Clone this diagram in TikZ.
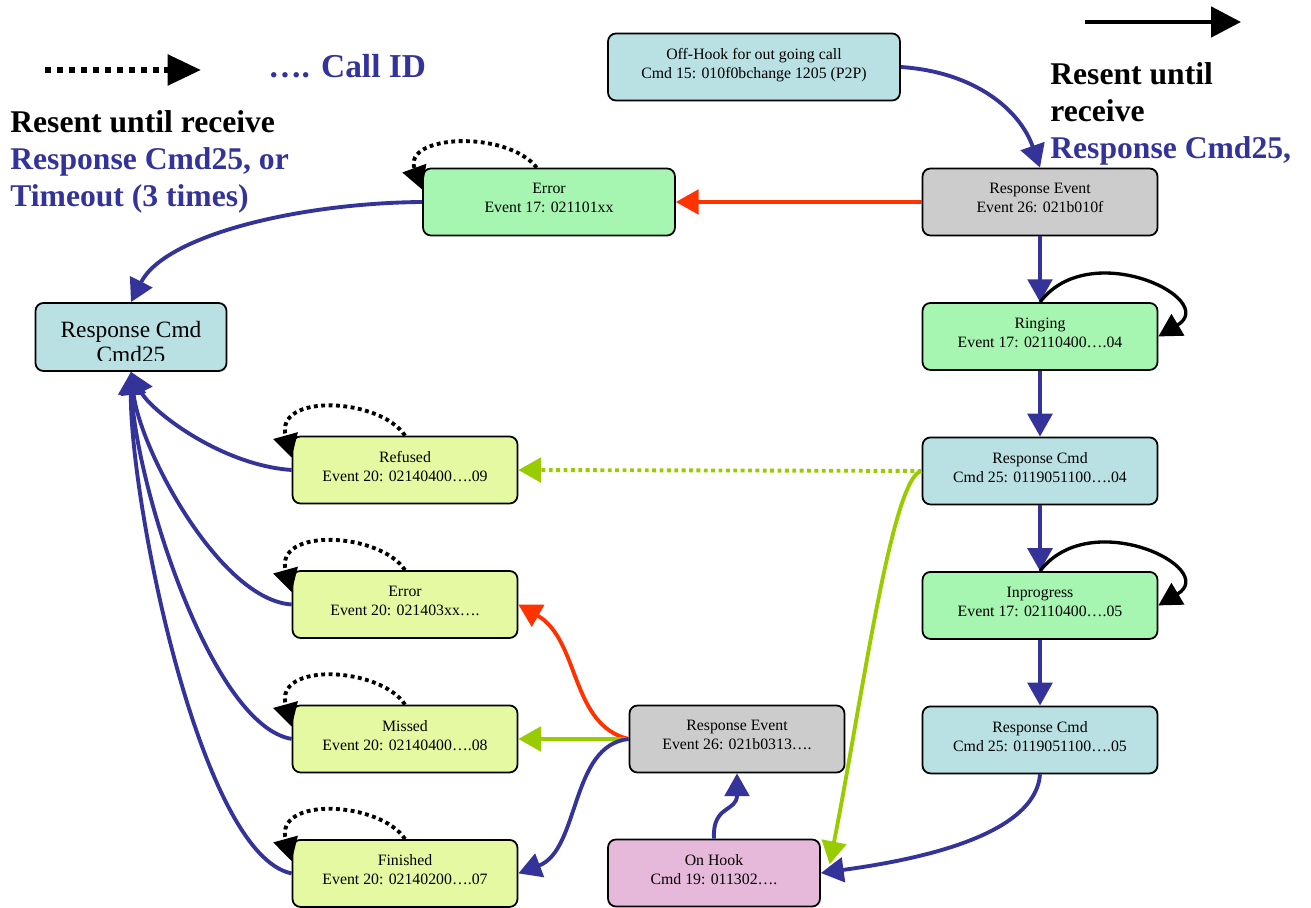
\documentclass[tikz,border=0pt]{standalone}
\usepackage{fontspec}
\setmainfont{Liberation Serif}
\usetikzlibrary{shapes,arrows.meta}

\definecolor{callblue}{RGB}{51,51,153}
\definecolor{errred}{RGB}{255,51,0}
\definecolor{okgreen}{RGB}{153,204,0}
\definecolor{cmdfill}{RGB}{185,224,227}
\definecolor{evtfill}{RGB}{166,245,176}
\definecolor{respfill}{RGB}{204,204,204}
\definecolor{endfill}{RGB}{229,249,163}
\definecolor{hookfill}{RGB}{230,185,219}

\begin{document}
\begin{tikzpicture}[x=0.02cm,y=-0.02cm,node distance=2.69cm,
	font=\fontsize{9}{10.8}\selectfont,
	block/.style={rectangle,rounded corners=4.5pt,draw=black,line width=1pt,align=center,minimum height=1.34cm,minimum width=4.7cm,inner sep=2pt,text depth=4.3pt},
	cmdbox/.style={block,fill=cmdfill},
	okbox/.style={block,fill=evtfill},
	respbox/.style={block,fill=respfill},
	endbox/.style={block,fill=endfill,minimum width=4.5cm},
	hookbox/.style={block,fill=hookfill},
	tip/.style={-{Triangle[length=13pt,width=14pt]}},
	line/.style={draw,tip,line width=2.2pt,callblue},
	rline/.style={line,errred},
	gline/.style={line,okgreen},
	gdots/.style={gline,dash pattern=on 2.2pt off 2pt},
	loopline/.style={draw,tip,line width=1.9pt,black},
	dotline/.style={loopline,line width=2.2pt,dash pattern=on 2.2pt off 2pt},
	legend/.style={font=\fontsize{18}{21}\selectfont\bfseries,align=left,anchor=west,inner sep=0pt}]
\useasboundingbox (0,0) rectangle (1311,908);
% legend
\node[legend,text=callblue,font=\fontsize{19}{21}\selectfont\bfseries] (callid) at (268,66) {…. Call ID};
\node[legend] (resentl) at (10,162) {Resent until receive\\\textcolor{callblue}{Response Cmd25, or}\\\textcolor{callblue}{Timeout (3 times)}};
\node[legend] (resentr) at (1050,114) {Resent until\\receive\\\textcolor{callblue}{Response Cmd25,}};
\coordinate (dotstart) at (45,70);
\coordinate (dotend) at (201,70);
\coordinate (solstart) at (1085,22);
\coordinate (solend) at (1241,22);
\path[dotline,line width=3.4pt,dash pattern=on 3.4pt off 3.4pt,-{Triangle[length=19pt,width=17pt]}] (dotstart) -- (dotend);
\path[loopline,line width=2.8pt,-{Triangle[length=17pt,width=17pt]}] (solstart) -- (solend);
% right column
\node[cmdbox,minimum width=5.84cm] (offhook) at (754,67) {Off-Hook for out going call\\Cmd 15: 010f0bchange 1205 (P2P)};
\node[respbox] (re1) at (1040,202) {Response Event\\Event 26: 021b010f};
\node[okbox,below of=re1] (ringing) {Ringing\\Event 17: 02110400….04};
\node[cmdbox,below of=ringing] (rc04) {Response Cmd\\Cmd 25: 0119051100….04};
\node[okbox,below of=rc04] (inprog) {Inprogress\\Event 17: 02110400….05};
\node[cmdbox,below of=inprog] (rc05) {Response Cmd\\Cmd 25: 0119051100….05};
% middle
\node[okbox,minimum width=5.04cm] (err17) at (549,202) {Error\\Event 17: 021101xx};
\node[respbox,minimum width=4.3cm] (re2) at (737,739) {Response Event\\Event 26: 021b0313….};
\node[hookbox,minimum width=4.24cm] (onhook) at (714,873) {On Hook\\Cmd 19: 011302….};
% left column
\node[cmdbox,minimum width=3.82cm,minimum height=1.36cm] (cmd25) at (131,337) {};
\begin{scope}
\clip (cmd25.north west) rectangle ([yshift=6.3pt]cmd25.south east);
\node[font=\fontsize{13.3}{14.7}\selectfont,align=center] (cmd25txt) at (131,342) {Response Cmd\\Cmd25};
\end{scope}
\node[endbox] (refused) at (405,470) {Refused\\Event 20: 02140400….09};
\node[endbox,below of=refused] (err20) {Error\\Event 20: 021403xx….};
\node[endbox,below of=err20] (missed) {Missed\\Event 20: 02140400….08};
\node[endbox,below of=missed] (finished) {Finished\\Event 20: 02140200….07};
% connectors
\path[line] (offhook.east) .. controls (975,72) and (1020,110) .. (re1.north);
\path[rline] (re1.west) -- (err17.east);
\path[line] (err17.west) .. controls (300,203) and (165,235) .. (cmd25.north);
\path[line] (re1.south) -- (ringing.north);
\path[line] (ringing.south) -- (rc04.north);
\path[line] (rc04.south) -- (inprog.north);
\path[line] (inprog.south) -- (rc05.north);
\path[loopline] (ringing.north) .. controls +(50,-66) and +(62,-37) .. (ringing.east);
\path[loopline] (inprog.north) .. controls +(50,-66) and +(62,-37) .. (inprog.east);
\path[gdots] (rc04.west) -- (refused.east);
\path[gline] (rc04.west) .. controls (892,476) and (862,700) .. ([shift={(5pt,5pt)}]onhook.east);
\path[line] (rc05.south) .. controls (1035,840) and (900,862) .. (onhook.east);
\path[line] (onhook.north) .. controls (712,805) and (737,812) .. (re2.south);
\path[rline] (re2.west) .. controls (570,725) and (580,640) .. (err20.east);
\path[gline] (re2.west) -- (missed.east);
\path[line] (re2.west) .. controls (570,745) and (580,850) .. (finished.east);
\path[line] (refused.west) .. controls (220,465) and (150,410) .. (cmd25.south);
\path[line] (err20.west) .. controls (220,600) and (140,450) .. (cmd25.south);
\path[line] (missed.west) .. controls (210,725) and (135,480) .. (cmd25.south);
\path[line] (finished.west) .. controls (200,855) and (130,500) .. (cmd25.south);
\path[dotline] ([xshift=-7pt]err17.north) .. controls +(-30,-38) and +(-20,-55) .. ([yshift=-12.5pt]err17.north west);
\path[dotline] (refused.north) .. controls +(-25,-38) and +(-18,-65) .. ([yshift=-12.5pt]refused.north west);
\path[dotline] (err20.north) .. controls +(-25,-38) and +(-18,-65) .. ([yshift=-12.5pt]err20.north west);
\path[dotline] (missed.north) .. controls +(-25,-38) and +(-18,-65) .. ([yshift=-12.5pt]missed.north west);
\path[dotline] (finished.north) .. controls +(-25,-38) and +(-18,-65) .. ([yshift=-12.5pt]finished.north west);
\end{tikzpicture}
\end{document}
